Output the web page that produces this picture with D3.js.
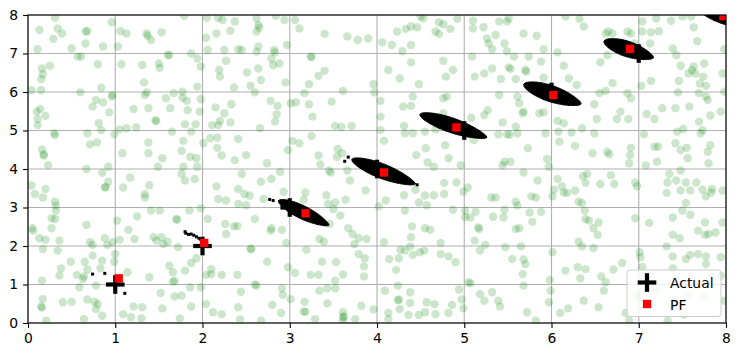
<!DOCTYPE html>
<html><head><meta charset="utf-8">
<script src="https://cdn.jsdelivr.net/npm/d3@7"></script>
<style>body{margin:0;background:#fff} svg{display:block} text{font-family:"DejaVu Sans",sans-serif}</style>
</head><body><svg id="c" width="740" height="357"></svg>
<script>
// ---------- data ----------
const xTicks = [0,1,2,3,4,5,6,7,8];
const yTicks = [0,1,2,3,4,5,6,7,8];
const seriesNames = ["Actual","PF"];
const actualX = [1,2,3,4,5,6,7,8];
const actualY = [1,2,3,4,5,6,7,8];
const pfX = [1.04,2.02,3.18,4.08,4.91,6.02,6.90,7.97];
const pfY = [1.16,2.08,2.85,3.91,5.08,5.92,7.12,7.97];
// particle clouds after each update: end points of the cloud and its half-width (y units)
const cloudX1 = [2.87,3.71,4.49,5.68,6.60,7.70];
const cloudY1 = [3.18,4.25,5.42,6.20,7.32,8.14];
const cloudX2 = [3.45,4.44,5.26,6.34,7.17,8.40];
const cloudY2 = [2.54,3.61,4.82,5.69,6.89,7.68];
const cloudW  = [0.17,0.19,0.19,0.21,0.20,0.19];
// scattered single particles
const strayX = [0.74,0.88,1.11,1.80,1.81,1.84,1.87,1.90,1.93,1.96,1.98,2.77,2.81,3.67,3.63,4.46];
const strayY = [1.27,1.29,0.77,2.37,2.33,2.30,2.31,2.28,2.24,2.20,2.17,3.21,3.18,4.31,4.20,3.59];
// initial (uniform) particles
const initialParticles = [
[0.31,7.93],[0.13,7.61],[0.34,7.65],[0.39,7.52],[0.29,7.38],[0.11,7.11],[0.50,7.13],[0.66,7.57],[0.68,7.58],[0.66,7.26],[0.86,7.18],[0.96,7.81],[1.06,7.58],[1.13,7.52],[1.03,7.18],[1.36,7.52],[1.37,7.46],[1.41,7.35],[1.53,7.55],[1.79,7.98],[1.87,7.0],[1.60,6.96],[1.62,6.96],[2.05,7.93],[2.18,7.93],[2.23,7.87],[2.37,7.83],[2.16,7.52],[2.04,7.41],[2.32,7.59],[2.06,7.09],[2.25,7.09],[2.41,7.11],[2.45,7.09],[2.62,7.91],[2.64,7.74],[2.65,7.67],[2.62,7.57],[2.64,7.18],[2.62,7.05],
[0.57,6.92],[0.61,6.92],[0.80,6.72],[0.25,6.68],[0.16,6.61],[0.17,6.46],[0.15,6.34],[0.15,6.05],[0.04,6.05],[0.60,5.99],[0.84,6.11],[1.07,6.72],[1.31,6.70],[1.50,6.74],[1.51,6.63],[1.33,6.25],[1.34,5.92],[1.36,5.99],[1.94,6.87],[1.98,6.66],[1.94,6.14],[2.19,6.57],[2.20,6.40],[2.27,6.81],[2.51,6.51],[2.64,6.61],[2.36,6.12],[2.55,6.16],[2.60,5.99],[2.67,6.31],
[0.10,5.49],[0.14,5.56],[0.20,5.38],[0.11,5.30],[0.11,5.14],[0.74,5.62],[0.78,5.79],[0.86,5.73],[0.96,5.88],[0.97,5.92],[0.93,5.47],[0.81,5.19],[0.84,5.01],[0.68,4.93],[0.30,4.93],[0.31,4.88],[1.21,5.56],[1.38,5.58],[1.46,5.26],[1.47,5.25],[1.58,5.84],[1.63,5.58],[1.67,5.97],[1.77,6.01],[1.77,5.85],[1.82,5.77],[1.83,5.53],[1.80,5.16],[1.92,5.16],[1.87,4.97],[1.65,4.97],[1.98,5.81],[1.97,5.49],[1.24,5.08],[1.13,5.06],[1.05,5.03],[0.99,4.90],[2.15,5.60],[2.25,5.45],[2.33,5.68],[2.32,5.21],[2.20,5.25],[2.11,5.14],[2.18,5.14],[2.66,5.06],[2.09,4.80],[2.17,4.81],[2.01,4.67],
[0.16,4.51],[0.18,4.38],[0.18,4.35],[0.23,4.10],[0.67,4.0],[0.71,4.64],[0.79,4.69],[1.08,4.41],[0.92,4.06],[1.38,4.69],[1.38,4.41],[1.49,4.06],[1.54,4.28],[1.78,4.73],[1.76,4.47],[1.86,4.32],[1.93,4.28],[1.94,4.06],[1.78,4.06],[2.17,4.55],[2.22,4.35],[2.37,4.23],[2.50,4.36],[2.41,4.78],
[2.84,7.98],[2.94,7.87],[3.06,7.87],[3.11,7.65],[2.97,7.22],[2.82,7.09],[2.83,7.03],[2.79,6.87],[2.81,6.70],[2.88,6.74],[2.95,6.25],[3.24,6.92],[3.25,6.91],[3.40,7.51],[3.66,7.44],[3.78,7.35],[3.90,7.39],[3.40,6.55],[3.33,6.42],[3.22,6.20],[3.17,5.97],[3.61,6.03],[3.96,6.20],[3.97,5.99],[2.78,5.77],[2.86,5.64],[2.85,5.42],[2.83,5.23],[3.01,5.71],[3.07,5.73],[3.22,5.68],[3.26,5.36],[3.48,5.75],[3.52,5.12],[3.59,5.09],[3.71,5.12],[3.25,4.86],[3.03,4.73],[3.11,4.67],[2.98,4.49],[2.74,4.15],[3.33,4.35],[3.35,4.12],[3.55,4.52],[3.60,4.41],[3.54,4.32],[4.04,5.77],[4.04,5.36],[4.04,5.01],[4.08,4.73],[4.06,7.29],[4.17,7.22],[4.29,7.06],[4.39,7.22],[4.23,7.57],[4.33,7.64],[4.39,7.70],[4.46,7.68],[4.50,7.96],[4.53,7.91],[4.71,7.81],[4.76,7.76],[4.84,7.64],[4.67,7.57],[4.71,7.51],[4.92,7.90],[5.10,7.85],[5.10,7.65],[5.22,7.68],[5.26,7.39],[5.28,7.26],[5.32,7.11],[5.09,6.92],[4.13,6.57],[4.26,6.35],[4.39,6.77],[4.48,6.20],[4.76,6.81],[4.79,6.40],[4.87,6.57],[5.12,6.40],[5.23,6.48],[5.32,6.61],[4.41,5.88],[4.39,5.64],[4.30,5.62],[4.76,5.84],[4.80,5.88],[4.76,5.45],[5.08,5.33],[5.23,5.40],[5.27,5.53],[4.31,5.12],[4.32,4.93],[4.41,4.93],[4.55,4.97],[4.67,5.03],[4.56,4.54],[4.45,4.36],[4.58,4.17],[4.65,4.06],[4.78,4.62],[4.82,4.28],[4.96,4.10],[5.11,4.75],
[5.40,7.83],[5.49,7.83],[5.51,7.91],[5.68,7.52],[5.83,7.46],[5.36,7.48],[5.46,7.26],[5.49,7.06],[5.57,6.92],[5.74,6.92],[5.91,7.11],[5.88,6.79],[5.70,6.57],[5.71,6.53],[5.51,6.64],[5.53,6.60],[5.42,6.34],[5.59,6.34],[5.91,6.37],[6.07,7.03],[6.14,6.68],[6.20,6.35],[6.29,6.18],[6.32,7.90],[6.37,7.70],[6.16,7.96],[6.62,7.52],[6.65,7.57],[6.70,7.52],[6.64,6.96],[6.56,6.77],[6.87,7.57],[6.91,7.52],[6.95,7.26],[7.04,7.83],[7.04,7.57],[7.14,7.55],[7.13,7.26],[7.23,7.58],[7.20,7.91],[7.37,7.85],[7.50,7.96],[7.60,7.96],[7.63,7.68],[7.67,7.32],[7.39,7.13],[7.43,6.96],[7.98,7.11],[7.75,6.74],[7.63,6.66],[7.61,6.57],[7.48,6.68],[7.57,6.48],[7.65,6.48],[7.74,6.40],[7.96,6.48],[7.14,6.29],[7.03,6.16],[7.46,6.29],[7.70,6.22],[7.77,6.16],[7.45,5.99],[7.69,5.97],[7.77,5.88],[7.79,5.79],[7.98,6.01],[5.40,5.92],[5.61,5.88],[5.63,5.71],[5.68,5.49],[5.67,5.45],[5.86,5.45],[5.91,5.47],[5.44,5.21],[5.59,5.10],[5.49,4.90],[5.39,4.90],[5.52,4.89],[5.61,4.93],[5.93,4.93],[6.08,4.97],[6.23,4.95],[6.35,5.06],[6.49,4.93],[6.49,5.68],[6.52,5.30],[6.75,5.30],[6.79,5.49],[6.88,5.30],[6.55,5.97],[6.62,6.03],[6.70,6.23],[6.87,5.97],[6.91,5.84],[6.07,5.25],[6.14,5.19],[7.09,5.43],[7.18,5.30],[7.27,5.58],[7.42,5.58],[7.58,5.62],[7.69,5.23],[7.73,5.01],[7.82,5.39],[7.94,5.49],[7.44,4.97],[7.51,5.04],[7.71,4.93],[7.06,4.90],[5.73,4.54],[6.09,4.71],[6.27,4.60],[6.47,4.41],[6.66,4.38],[6.64,4.45],[6.91,4.55],[6.90,4.36],[6.89,4.15],[7.18,4.58],[7.22,4.58],[7.42,4.67],[7.48,4.49],[7.55,4.55],[7.56,4.28],[7.79,4.45],[7.82,4.62],[7.80,4.15],[5.95,4.26],[5.97,4.06],[5.46,4.19],[5.53,4.19],[5.44,4.10],[7.21,4.19],[7.08,4.09],
[0.85,3.90],[0.92,3.67],[0.88,3.52],[0.89,3.53],[1.09,3.52],[1.17,3.78],[1.39,3.58],[1.34,3.35],[1.34,3.26],[1.76,3.87],[1.80,3.70],[1.91,3.74],[2.45,3.87],[2.16,3.55],[2.41,3.48],[2.48,3.35],[2.54,3.31],[2.18,3.22],[2.27,3.18],[2.41,3.09],[2.50,3.06],[2.67,3.67],[0.04,3.57],[0.08,3.35],[0.17,3.26],[0.20,3.48],[0.31,3.15],[0.32,3.05],[0.32,2.92],[0.27,2.72],[0.31,2.70],[0.05,2.46],[0.06,2.40],[0.27,2.46],[0.13,2.20],[0.20,2.16],[0.17,1.92],[0.36,2.14],[0.34,1.88],[0.67,2.55],[0.71,2.10],[0.74,2.03],[0.88,2.20],[0.97,2.10],[1.05,2.16],[0.91,2.03],[1.02,2.66],[1.15,2.42],[1.25,2.77],[1.22,2.18],[1.41,2.92],[1.51,2.92],[1.70,2.70],[1.71,2.68],[1.85,2.92],[1.98,2.98],[2.06,2.70],[1.44,2.23],[1.47,2.14],[1.53,2.23],[1.55,2.05],[1.60,2.11],[1.72,1.97],[2.26,2.57],[2.36,2.51],[2.40,2.52],[2.27,2.31],[2.60,2.70],[2.55,1.92],[2.56,1.93],[1.00,1.79],[0.99,1.59],[0.85,1.62],[0.83,1.42],[0.74,1.75],[0.65,1.59],[0.68,1.39],[0.64,1.21],[0.63,1.14],[0.78,0.97],[0.59,0.93],[0.56,1.25],[0.49,1.59],[0.38,1.42],[0.36,1.23],[0.16,1.10],[0.17,0.62],[0.15,0.43],[0.16,0.40],[0.40,0.54],[0.50,0.55],[0.68,0.61],[0.76,0.55],[0.80,0.49],[0.78,0.36],[0.85,0.19],[0.64,0.10],[0.21,0.06],[1.14,1.32],[1.39,1.19],[1.62,1.49],[1.66,1.32],[1.68,1.10],[1.66,1.07],[1.80,1.36],[1.87,1.56],[1.93,1.68],[1.86,0.93],[1.98,0.93],[1.52,0.78],[1.68,0.69],[1.76,0.71],[1.87,0.43],[1.54,0.38],[1.21,0.43],[1.31,0.41],[1.09,0.23],[1.18,0.15],[1.30,0.12],[1.74,0.12],[2.04,1.25],[2.10,1.27],[2.22,1.25],[2.10,1.40],[2.40,1.25],[2.44,0.81],[2.62,0.97],[2.60,1.00],[2.04,0.49],[2.12,0.28],[2.22,0.23],[2.41,0.41],[2.43,0.09],[2.67,0.06],
[2.79,3.74],[2.89,3.93],[2.70,3.22],[2.79,2.46],[2.78,2.40],[2.91,2.42],[2.96,2.08],[2.74,1.59],[2.98,1.45],[3.06,1.30],[2.93,3.41],[3.18,3.39],[3.16,3.20],[3.42,3.32],[3.44,3.09],[3.52,3.13],[3.50,2.96],[3.58,2.79],[3.46,2.57],[3.45,3.96],[3.47,3.91],[3.66,3.96],[3.69,3.70],[3.87,3.44],[3.64,3.20],[3.67,2.46],[3.72,2.31],[3.79,2.20],[3.88,2.18],[3.74,2.05],[3.34,2.18],[3.39,2.11],[3.19,1.90],[3.37,1.59],[3.53,1.58],[3.79,1.79],[3.86,1.68],[3.85,1.47],[3.85,1.21],[3.61,1.26],[3.52,1.10],[3.33,1.25],[3.24,1.25],[3.43,0.90],[3.52,0.90],[3.34,0.84],[2.91,0.90],[2.92,0.73],[3.01,0.62],[2.80,0.47],[2.90,0.26],[3.17,0.55],[3.18,0.29],[3.16,0.30],[3.43,0.51],[3.29,0.10],[3.61,0.28],[3.62,0.17],[3.61,0.15],[3.75,0.10],[3.82,0.45],[3.96,0.35],[4.02,3.03],[4.08,2.10],[4.10,3.18],[4.31,3.32],[4.32,2.92],[4.44,3.46],[4.48,3.13],[4.55,3.31],[4.57,3.06],[4.65,3.32],[4.77,3.64],[4.77,3.35],[4.91,3.65],[4.99,3.41],[5.04,3.52],[4.87,2.94],[5.01,2.92],[5.07,2.74],[5.01,2.75],[5.13,2.89],[5.31,3.26],[5.33,2.76],[4.40,2.51],[4.55,2.46],[4.61,2.42],[4.39,2.23],[4.73,2.08],[5.16,2.48],[5.17,2.44],[5.12,2.14],[5.24,2.03],[5.18,1.88],[4.14,1.66],[4.25,1.68],[4.27,1.90],[4.32,1.88],[4.38,1.99],[4.41,1.77],[4.49,1.84],[4.54,1.88],[4.73,1.79],[4.82,1.73],[4.90,1.58],[4.22,1.38],[4.24,0.97],[4.09,0.84],[4.38,0.80],[4.25,0.61],[4.24,0.59],[4.38,0.52],[4.26,0.36],[4.13,0.26],[4.36,0.21],[4.48,0.21],[4.55,0.28],[4.57,0.54],[4.66,0.49],[4.67,0.23],[4.82,0.26],[4.86,0.47],[4.94,0.87],[4.97,0.61],[4.99,0.38],[5.05,1.06],[5.07,1.03],[5.18,0.75],[5.23,0.58],[5.32,0.80],[4.13,0.10],[3.61,0.06],
[5.68,3.91],[5.84,3.70],[6.07,3.74],[6.12,3.55],[6.14,3.39],[6.18,3.38],[6.03,3.46],[6.01,3.29],[6.27,3.44],[6.36,3.81],[6.41,3.87],[6.39,3.64],[6.56,3.61],[6.68,3.84],[6.72,3.61],[5.36,3.26],[5.59,3.15],[5.61,3.05],[5.46,2.94],[5.45,2.74],[5.77,3.29],[5.82,3.26],[5.75,2.87],[5.88,2.89],[5.78,2.63],[5.59,2.44],[5.63,2.46],[6.31,3.15],[6.35,3.12],[6.38,2.92],[6.39,2.70],[6.43,2.66],[6.54,2.61],[6.48,2.46],[6.53,2.29],[6.31,2.11],[6.35,1.99],[6.48,1.95],[5.47,1.97],[5.65,1.99],[6.01,1.84],[5.55,1.66],[5.68,1.65],[5.70,1.53],[5.67,1.27],[5.68,0.97],[6.16,1.36],[6.30,1.45],[6.39,1.40],[6.33,1.16],[5.98,1.12],[5.99,0.84],[6.57,1.21],[6.62,1.06],[6.60,0.84],[6.71,1.39],[6.81,1.56],[6.96,3.65],[6.98,3.55],[6.96,2.72],[7.12,2.60],[7.01,1.84],[7.02,1.71],[7.04,1.45],[7.35,3.87],[7.33,3.65],[7.43,3.70],[7.54,3.65],[7.66,3.65],[7.48,3.96],[7.32,3.38],[7.48,3.44],[7.59,3.44],[7.73,3.46],[7.84,3.48],[7.83,3.39],[7.77,3.29],[7.96,3.44],[7.54,3.12],[7.50,2.92],[7.39,2.74],[7.59,2.81],[7.76,2.61],[7.68,2.40],[7.76,2.29],[7.80,2.31],[7.88,2.35],[7.96,2.61],[7.39,2.29],[7.47,2.20],[7.32,1.99],[7.39,1.73],[7.54,1.66],[7.59,1.77],[7.68,1.79],[7.77,1.73],[7.77,1.53],[7.94,1.71],[7.39,1.42],[7.21,0.84],[7.56,0.71],[7.75,0.67],[7.52,0.22],[7.94,1.23],[7.98,0.58],[6.98,0.71],[5.72,0.28],[5.82,0.06],[5.97,0.54],[6.10,0.26],[6.19,0.38],[6.37,0.58],[6.54,0.41],[6.89,0.06],[5.39,0.58],[5.41,0.43],[7.33,0.06],[6.85,0.26]
];

// ---------- drawing ----------
const svg = d3.select("#c");
const x = d3.scaleLinear().domain([0,8]).range([28,726]);
const y = d3.scaleLinear().domain([0,8]).range([323,15]);
const FS = "13.9px";

svg.append("defs").append("clipPath").attr("id","clip")
  .append("rect").attr("x",x(0)).attr("y",y(8)).attr("width",x(8)-x(0)).attr("height",y(0)-y(8));

// grid
const grid = svg.append("g").attr("stroke","#b0b0b0").attr("stroke-width",1.1);
grid.selectAll("line.vx").data(xTicks).join("line")
  .attr("x1",d=>x(d)).attr("x2",d=>x(d)).attr("y1",y(0)).attr("y2",y(8));
grid.selectAll("line.hy").data(yTicks).join("line")
  .attr("y1",d=>y(d)).attr("y2",d=>y(d)).attr("x1",x(0)).attr("x2",x(8));

const plot = svg.append("g").attr("clip-path","url(#clip)");

// initial particles
plot.append("g").selectAll("circle").data(initialParticles).join("circle")
  .attr("cx",d=>x(d[0])).attr("cy",d=>y(d[1])).attr("r",4.2)
  .attr("fill","#008000").attr("fill-opacity",0.2);

// actual positions (plus markers)
function plus(g,cx,cy){
  g.append("line").attr("x1",cx-9.3).attr("x2",cx+9.3).attr("y1",cy).attr("y2",cy);
  g.append("line").attr("x1",cx).attr("x2",cx).attr("y1",cy-9.3).attr("y2",cy+9.3);
}
const ga = plot.append("g").attr("stroke","#000").attr("stroke-width",4.2);
actualX.forEach((v,i)=>plus(ga,x(v),y(actualY[i])));

// particle clouds: fat lens shapes
const clouds = cloudX1.map((v,i)=>({x1:v,y1:cloudY1[i],x2:cloudX2[i],y2:cloudY2[i],w:cloudW[i]}));
const ts = d3.range(0,1.0001,0.02);
plot.append("g").selectAll("path").data(clouds).join("path")
  .attr("d",d=>{
    const px1=x(d.x1), py1=y(d.y1), px2=x(d.x2), py2=y(d.y2);
    const L=Math.hypot(px2-px1,py2-py1), ux=(px2-px1)/L, uy=(py2-py1)/L;
    const b=y(0)-y(d.w);
    const prof=t=>b*Math.pow(Math.sin(Math.PI*Math.pow(t,0.9)),0.6);
    const top=ts.map(t=>[px1+ux*L*t - uy*prof(t), py1+uy*L*t + ux*prof(t)]);
    const bot=ts.slice().reverse().map(t=>[px1+ux*L*t + uy*prof(t), py1+uy*L*t - ux*prof(t)]);
    return d3.line()(top.concat(bot))+"Z";
  })
  .attr("fill","#000").attr("stroke","#000").attr("stroke-width",1).attr("stroke-linejoin","round");

plot.append("g").selectAll("rect").data(strayX.map((v,i)=>[v,strayY[i]])).join("rect")
  .attr("x",d=>x(d[0])-1.5).attr("y",d=>y(d[1])-1.5).attr("width",3).attr("height",3).attr("fill","#000");

// PF estimates
plot.append("g").selectAll("rect").data(pfX.map((v,i)=>[v,pfY[i]])).join("rect")
  .attr("x",d=>x(d[0])-4.15).attr("y",d=>y(d[1])-4.15).attr("width",8.3).attr("height",8.3).attr("fill","#ff0000");

// axes
const xa = svg.append("g").attr("transform",`translate(0,${y(0)})`)
  .call(d3.axisBottom(x).tickValues(xTicks).tickSize(4.9).tickSizeOuter(0).tickPadding(4.9).tickFormat(d3.format("d")));
const ya = svg.append("g").attr("transform",`translate(${x(0)},0)`)
  .call(d3.axisLeft(y).tickValues(yTicks).tickSize(4.9).tickSizeOuter(0).tickPadding(4.9).tickFormat(d3.format("d")));
[xa,ya].forEach(a=>{
  a.select(".domain").remove();
  a.selectAll("line").attr("stroke","#000").attr("stroke-width",1.1);
  a.selectAll("text").attr("font-size",FS).attr("font-family","DejaVu Sans, sans-serif").attr("fill","#000");
});

// spines
svg.append("rect").attr("x",x(0)).attr("y",y(8)).attr("width",x(8)-x(0)).attr("height",y(0)-y(8))
  .attr("fill","none").attr("stroke","#000").attr("stroke-width",1.1);

// legend
const lg = svg.append("g").attr("transform","translate(627,270)");
lg.append("rect").attr("width",94).attr("height",46.5).attr("rx",3)
  .attr("fill","#fff").attr("fill-opacity",0.8).attr("stroke","#cccccc").attr("stroke-width",1);
const lp = lg.append("g").attr("stroke","#000").attr("stroke-width",4.2);
plus(lp,20,12.5);
lg.append("rect").attr("x",20-4.15).attr("y",34-4.15).attr("width",8.3).attr("height",8.3).attr("fill","#ff0000");
lg.selectAll("text").data(seriesNames).join("text")
  .attr("x",43).attr("y",(d,i)=>17.5+i*22).attr("font-size",FS).attr("fill","#000").text(d=>d);
</script></body></html>
